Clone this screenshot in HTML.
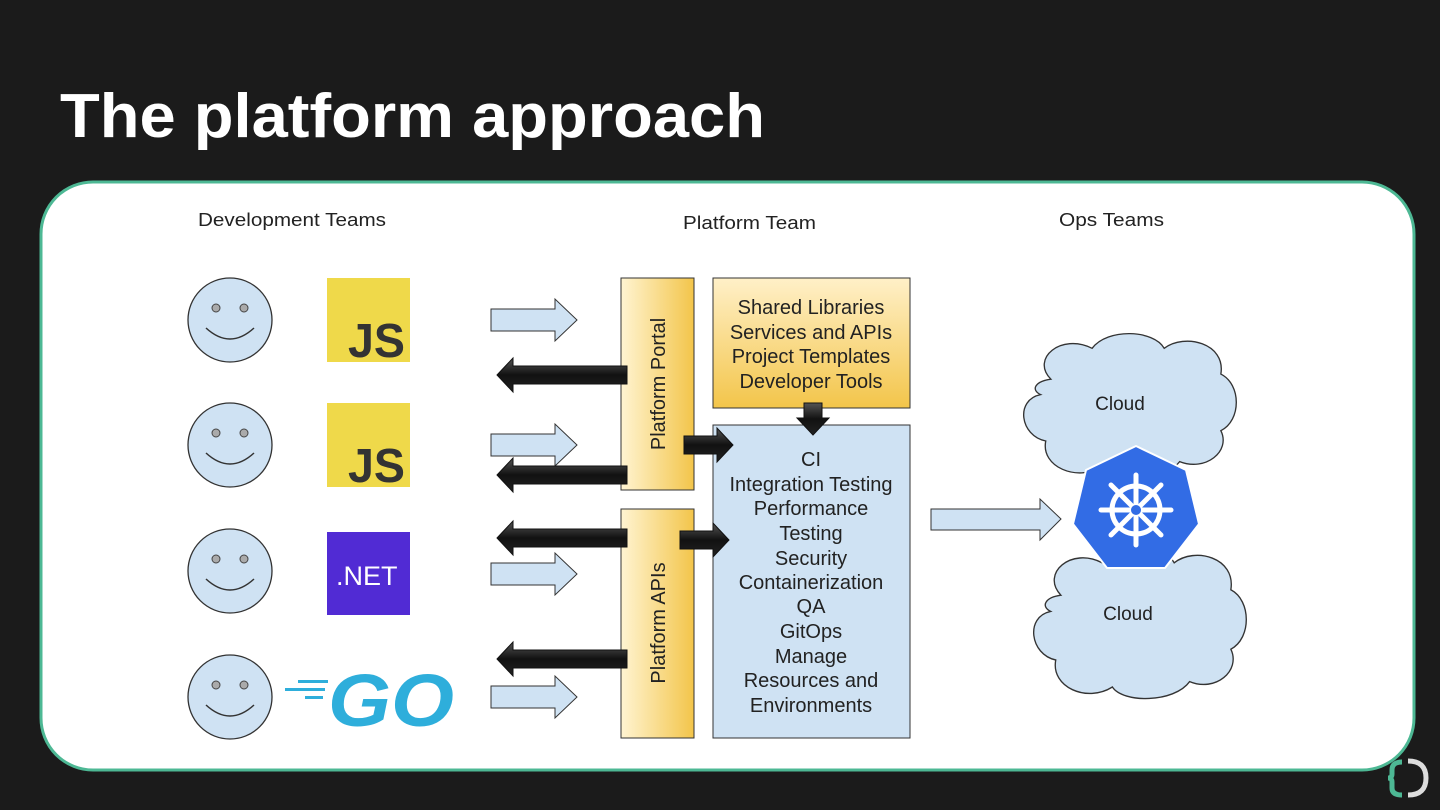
<!DOCTYPE html>
<html><head><meta charset="utf-8"><style>
html,body{margin:0;padding:0;background:#1b1b1b;}
svg{display:block;}
text{font-family:"Liberation Sans",Arial,sans-serif;}
</style></head><body>
<svg width="1440" height="810" viewBox="0 0 1440 810" xmlns="http://www.w3.org/2000/svg">
<defs>
<linearGradient id="yel" x1="0" x2="1" y1="0" y2="0"><stop offset="0" stop-color="#fff4d2"/><stop offset="1" stop-color="#f3c54a"/></linearGradient>
<linearGradient id="yel2" x1="0" x2="0" y1="0" y2="1"><stop offset="0" stop-color="#fff0c8"/><stop offset="1" stop-color="#f3c54a"/></linearGradient>
<linearGradient id="dk" x1="0" x2="0" y1="0" y2="1"><stop offset="0" stop-color="#555"/><stop offset="0.5" stop-color="#111"/><stop offset="1" stop-color="#222"/></linearGradient>
<g id="face"><circle cx="0" cy="0" r="42" fill="#cfe2f3" stroke="#333" stroke-width="1.3"/><circle cx="-14" cy="-12" r="4" fill="#aaa" stroke="#444"/><circle cx="14" cy="-12" r="4" fill="#aaa" stroke="#444"/><path d="M-24 8 Q0 30 24 8" fill="none" stroke="#333" stroke-width="1.5"/></g>
<polygon id="la" points="0,-11 64,-11 64,-21 86,0 64,21 64,11 0,11" fill="#cfe2f3" stroke="#333" stroke-width="1"/>
<polygon id="da" points="0,0 16,-17 16,-9 130,-9 130,9 16,9 16,17" fill="url(#dk)" stroke="#111" stroke-width="1"/>
<polygon id="ra" points="0,-9 33,-9 33,-17 49,0 33,17 33,9 0,9" fill="url(#dk)" stroke="#111" stroke-width="1"/>
<path id="cloud" d="M30,40 C10,20 40,-5 70,10 C85,-10 130,-8 140,10 C160,-5 200,5 195,35 C215,45 215,80 195,90 C205,110 180,130 155,120 C140,140 90,140 80,125 C55,140 20,125 25,100 C0,95 -5,60 20,55 C10,50 15,42 30,40 Z" fill="#cfe2f3" stroke="#333" stroke-width="1.3"/>
</defs>
<text x="60" y="137" fill="#fff" font-size="62" font-weight="bold" textLength="705" lengthAdjust="spacingAndGlyphs">The platform approach</text>
<rect x="41" y="182" width="1373" height="588" rx="52" fill="#fff" stroke="#4db894" stroke-width="3"/>
<text x="198" y="226" font-size="18" fill="#222" textLength="188" lengthAdjust="spacingAndGlyphs">Development Teams</text>
<text x="683" y="229" font-size="18" fill="#222" textLength="133" lengthAdjust="spacingAndGlyphs">Platform Team</text>
<text x="1059" y="226" font-size="18" fill="#222" textLength="105" lengthAdjust="spacingAndGlyphs">Ops Teams</text>
<use href="#face" x="230" y="320"/><use href="#face" x="230" y="445"/><use href="#face" x="230" y="571"/><use href="#face" x="230" y="697"/>
<rect x="327" y="278" width="83" height="84" fill="#efd94a"/><text x="348" y="357" font-size="48" font-weight="bold" fill="#333" textLength="57" lengthAdjust="spacingAndGlyphs">JS</text>
<rect x="327" y="403" width="83" height="84" fill="#efd94a"/><text x="348" y="482" font-size="48" font-weight="bold" fill="#333" textLength="57" lengthAdjust="spacingAndGlyphs">JS</text>
<rect x="327" y="532" width="83" height="83" fill="#512bd4"/><text x="336" y="585" font-size="27" fill="#fff">.NET</text>
<g fill="#2eaedb"><rect x="298" y="680" width="30" height="3"/><rect x="285" y="688" width="40" height="3"/><rect x="305" y="696" width="18" height="3"/></g>
<text x="328" y="726" font-size="74" font-weight="bold" font-style="italic" fill="#2eaedb" textLength="126" lengthAdjust="spacingAndGlyphs">GO</text>
<use href="#la" x="491" y="320"/><use href="#la" x="491" y="445"/><use href="#la" x="491" y="574"/><use href="#la" x="491" y="697"/>
<rect x="621" y="278" width="73" height="212" fill="url(#yel)" stroke="#333"/>
<rect x="621" y="509" width="73" height="229" fill="url(#yel)" stroke="#333"/>
<text transform="translate(665,384) rotate(-90)" text-anchor="middle" font-size="20" fill="#222">Platform Portal</text>
<text transform="translate(665,623) rotate(-90)" text-anchor="middle" font-size="20" fill="#222">Platform APIs</text>
<rect x="713" y="278" width="197" height="130" fill="url(#yel2)" stroke="#333"/>
<g font-size="20" fill="#222" text-anchor="middle"><text x="811" y="314">Shared Libraries</text><text x="811" y="339">Services and APIs</text><text x="811" y="363">Project Templates</text><text x="811" y="388">Developer Tools</text></g>
<rect x="713" y="425" width="197" height="313" fill="#cfe2f3" stroke="#333"/>
<g font-size="20" fill="#222" text-anchor="middle"><text x="811" y="466">CI</text><text x="811" y="491">Integration Testing</text><text x="811" y="515">Performance</text><text x="811" y="540">Testing</text><text x="811" y="565">Security</text><text x="811" y="589">Containerization</text><text x="811" y="613">QA</text><text x="811" y="638">GitOps</text><text x="811" y="663">Manage</text><text x="811" y="687">Resources and</text><text x="811" y="712">Environments</text></g>
<use href="#da" x="497" y="375"/><use href="#da" x="497" y="475"/><use href="#da" x="497" y="538"/><use href="#da" x="497" y="659"/>
<use href="#ra" x="684" y="445"/><use href="#ra" x="680" y="540"/>
<polygon points="804,403 822,403 822,418 829,418 813,435 797,418 804,418" fill="url(#dk)" stroke="#111"/>
<polygon points="931,509 1040,509 1040,499 1061,519 1040,540 1040,530 931,530" fill="#cfe2f3" stroke="#333"/>
<use href="#cloud" transform="translate(1020,338) scale(1.03,1.03)"/>
<text x="1120" y="410" text-anchor="middle" font-size="19" fill="#222">Cloud</text>
<use href="#cloud" transform="translate(1030,552) scale(1.03,1.08)"/>
<text x="1128" y="620" text-anchor="middle" font-size="19" fill="#222">Cloud</text>
<polygon points="1136,446 1186,470 1199,524 1165,568 1107,568 1073,524 1086,470" fill="#326ce5" stroke="#fff" stroke-width="2" stroke-linejoin="round"/>
<g stroke="#fff" stroke-width="5" fill="none" stroke-linecap="round"><circle cx="1136" cy="510" r="24"/>
<line x1="1136" y1="475" x2="1136" y2="545"/><line x1="1101" y1="510" x2="1171" y2="510"/><line x1="1111" y1="485" x2="1161" y2="535"/><line x1="1161" y1="485" x2="1111" y2="535"/></g>
<circle cx="1136" cy="510" r="5" fill="#326ce5"/>
<path d="M1402 762 Q1392 762 1392 770 L1392 774 Q1392 778 1388 778 Q1392 778 1392 782 L1392 788 Q1392 795 1402 795" fill="none" stroke="#4db894" stroke-width="5"/>
<path d="M1408 761 Q1426 761 1426 778 Q1426 795 1408 795" fill="none" stroke="#ddd" stroke-width="5"/>
</svg>
</body></html>
